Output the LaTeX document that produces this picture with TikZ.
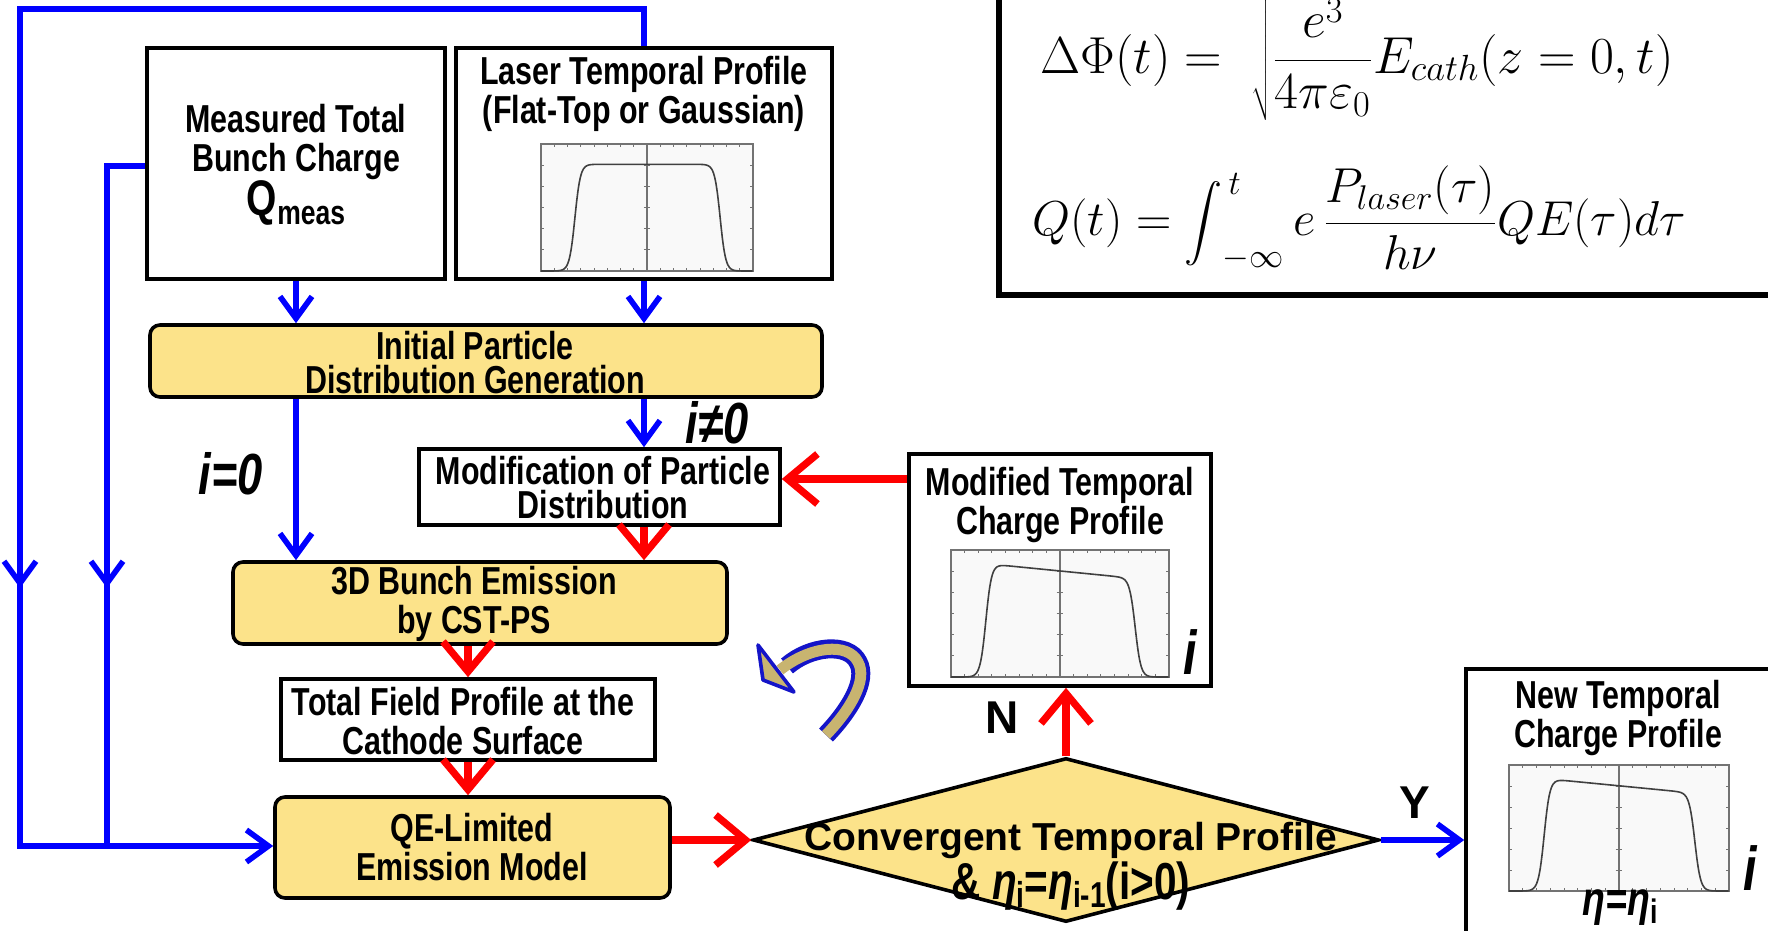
\documentclass[tikz,border=0pt]{standalone}
\usepackage{fix-cm}
\usepackage{graphicx}
\usepackage[no-math]{fontspec}
\setmainfont{Liberation Sans}
\newfontfamily\nar{Liberation Sans}[FakeStretch=0.78]
\usetikzlibrary{arrows.meta,shapes.geometric}
\definecolor{boxyellow}{RGB}{252,227,138}
\definecolor{tanfill}{RGB}{200,180,112}
\definecolor{ablue}{RGB}{20,20,200}
\definecolor{plotframe}{gray}{0.45}
\definecolor{plotbg}{gray}{0.975}

\newcommand\profileplot[5]{%
 \pgfmathsetmacro\ppw{(#3-#1)*0.5}%
 \pgfmathsetmacro\pph{(#4-#2)*0.5}%
 \begin{scope}[shift={(#1,#4)}, x={(\ppw pt,0pt)}, y={(0pt,\pph pt)}]
   \fill[plotbg] (0,0) rectangle (1,1);
   \foreach \k in {1,...,15} {\draw[plotframe, line width=0.5pt] (\k/16,0) -- (\k/16,0.025) (\k/16,1) -- (\k/16,0.975);}
   \foreach \k in {1,...,5} {\draw[plotframe, line width=0.5pt] (0,\k/6) -- (0.015,\k/6) (1,\k/6) -- (0.985,\k/6) (0.485,\k/6) -- (0.515,\k/6);}
   \draw[plotframe, line width=0.6pt] (0.5,0) -- (0.5,1);
   \draw[plotframe, line width=0.9pt] (0,0) rectangle (1,1);
   \draw[black!75, line width=0.8pt] plot[domain=0:1, samples=120, smooth] (\x, {(#5)*0.5*(tanh(max(min((\x-0.16)/0.026,5),-5))-tanh(max(min((\x-0.845)/0.026,5),-5)))});
 \end{scope}}

\newcommand\bigintegral{\mathop{\vcenter{\hbox{\scalebox{1.9}{$\displaystyle\int$}}}}\nolimits}

\begin{document}
\begin{tikzpicture}[x=0.5pt, y=-0.5pt,
  pbox/.style={draw, line width=1.8pt, inner sep=0pt, fill=white},
  ybox/.style={draw, line width=1.8pt, rounded corners=5pt, fill=boxyellow, inner sep=0pt},
  tx/.style={font=\nar\bfseries\fontsize{19.5}{19.5}\selectfont, align=center, inner sep=0pt},
  txs/.style={font=\nar\bfseries\fontsize{19.5}{17}\selectfont, align=center, inner sep=0pt},
  dtx/.style={font=\bfseries\fontsize{19.5}{22}\selectfont, align=center, inner sep=0pt},
  lab/.style={font=\nar\bfseries\itshape\fontsize{29}{29}\selectfont, inner sep=0pt},
  ilab/.style={font=\nar\bfseries\itshape\fontsize{31}{31}\selectfont, inner sep=0pt},
  yn/.style={font=\bfseries\fontsize{23}{23}\selectfont, inner sep=0pt},
  bl/.style={draw=blue, line width=2.8pt},
  barrow/.style={bl, -{Straight Barb[length=11pt,width=16pt]}},
  rarrow/.style={draw=red, line width=3.6pt, -{Straight Barb[length=15pt,width=25pt]}}]
\useasboundingbox (0,0) rectangle (1768,931);
\clip (0,0) rectangle (1768,931);

% equation box
\node[draw, line width=3pt, minimum width=400.5pt, minimum height=157.5pt, inner sep=0pt] (eqbox) at (1399.5,137.5) {};
\node[anchor=west, inner sep=0pt] (eq1) at (1040,54) {\fontsize{26}{30}\selectfont $\displaystyle \Delta\Phi(t) =\ \sqrt{\frac{e^3}{4\pi\varepsilon_0}}E_{cath}(z=0,t)$};
\node[anchor=west, inner sep=0pt] (eq2) at (1032,218) {\fontsize{24.5}{28}\selectfont $\displaystyle Q(t) = \bigintegral_{-\infty}^{\,t} e\,\frac{P_{laser}(\tau)}{h\nu}QE(\tau)d\tau$};

% boxes
\node[pbox, minimum width=149pt, minimum height=115.5pt] (meas) at (296,163.5) {};
\node[pbox, minimum width=188pt, minimum height=115.5pt] (laser) at (644,163.5) {};
\node[ybox, minimum width=336pt, minimum height=36pt] (init) at (486,361) {};
\node[pbox, minimum width=180.5pt, minimum height=38pt] (mod) at (599.5,487) {};
\node[ybox, minimum width=247pt, minimum height=41pt] (bunch) at (480,603) {};
\node[pbox, minimum width=187pt, minimum height=40.5pt] (field) at (468,719.5) {};
\node[ybox, minimum width=197.5pt, minimum height=50.5pt] (qe) at (472.5,847.5) {};
\node[diamond, draw, line width=1.8pt, fill=boxyellow, inner sep=0pt, minimum width=313pt, minimum height=82pt] (dia) at (1066,840) {};
\node[pbox, minimum width=151pt, minimum height=116pt] (modified) at (1060,570) {};
\node[pbox, minimum width=162pt, minimum height=140.5pt] (new) at (1628,809.5) {};

% plots
\profileplot{541}{144}{753}{271}{0.84}
\profileplot{951}{550}{1169}{677}{0.92-0.17*\x}
\profileplot{1509}{765}{1729}{891}{0.92-0.17*\x}

% texts
\node[tx] (tmeas) at (296,142) {Measured Total\\Bunch Charge};
\node[tx, anchor=base] (tq) at (296,215) {{\fontsize{25}{25}\selectfont Q}\raisebox{-5pt}{\fontsize{17}{17}\selectfont meas}};
\node[tx] (tlaser) at (644,94) {Laser Temporal Profile\\(Flat-Top or Gaussian)};
\node[txs] (tinit) at (475,363) {Initial Particle\\Distribution Generation};
\node[txs] (tmod) at (603,488) {Modification of Particle\\Distribution};
\node[tx] (tbunch) at (474,604) {3D Bunch Emission\\by CST-PS};
\node[tx] (tfield) at (463,721) {Total Field Profile at the\\Cathode Surface};
\node[tx] (tqe) at (472,847) {QE-Limited\\Emission Model};
\node[tx] (tmodified) at (1060,505) {Modified Temporal\\Charge Profile};
\node[tx] (tnew) at (1618,718) {New Temporal\\Charge Profile};
\node[dtx] (tdia1) at (1071,840) {Convergent Temporal Profile};
\node[tx, font=\nar\bfseries\fontsize{26}{26}\selectfont] (tdia2) at (1071,886) {\& {\itshape η}\raisebox{-4pt}{\fontsize{18}{18}\selectfont i}={\itshape η}\raisebox{-4pt}{\fontsize{18}{18}\selectfont i-1}(i>0)};
\node[tx, font=\nar\bfseries\fontsize{24}{24}\selectfont] (teta) at (1620,908) {{\itshape η=η}\raisebox{-4pt}{\fontsize{17}{17}\selectfont i}};

% labels
\node[lab] (li0) at (231,474) {i=0};
\node[lab] (lin0) at (717,423) {i≠0};
\node[yn] (lN) at (1002,718) {N};
\node[yn] (lY) at (1415,803) {Y};
\node[ilab] (li1) at (1190,652) {i};
\node[ilab] (li2) at (1750,868) {i};

% blue connectors
\coordinate (tl) at (20,9);
\coordinate (bl) at (20,846);
\coordinate (ml) at (107,166);
\coordinate (ib) at (107,846);
\draw[barrow] (laser.north) |- (tl) -- (bl) -- (bl -| qe.west);
\draw[barrow] (tl) -- (20,588);
\draw[bl] (meas.west |- ml) -- (ml) -- (ib);
\draw[barrow] (ml) -- (107,588);
\draw[barrow] (meas.south) -- (meas.south |- init.north);
\draw[barrow] (laser.south) -- (laser.south |- init.north);
\draw[barrow] (init.south -| meas.south) -- (bunch.north -| meas.south);
\draw[barrow] (init.south -| laser.south) -- (mod.north -| laser.south);
\draw[barrow] (dia.east) -- (dia.east -| new.west);

% red connectors
\coordinate (mE) at ([yshift=4pt]mod.east);
\draw[rarrow] (mod.south -| laser.south) -- (bunch.north -| laser.south);
\draw[rarrow] (bunch.south -| field.north) -- (field.north);
\draw[rarrow] (field.south) -- (field.south |- qe.north);
\draw[rarrow] (qe.east |- dia.west) -- (dia.west);
\draw[rarrow] (dia.north) -- (dia.north |- modified.south);
\draw[rarrow] (mE -| modified.west) -- (mE);

% curved arrow
\draw[ablue, line width=9.5pt] (826,735) .. controls (850,710) and (868,680) .. (858,662) .. controls (848,642) and (810,646) .. (787,666);
\filldraw[fill=tanfill, draw=ablue, line width=1.8pt, line join=round] (758,645) -- (763,680) -- (794,692) -- cycle;
\draw[tanfill, line width=5.5pt] (826,735) .. controls (850,710) and (868,680) .. (858,662) .. controls (848,642) and (810,646) .. (780,670);
\end{tikzpicture}
\end{document}
